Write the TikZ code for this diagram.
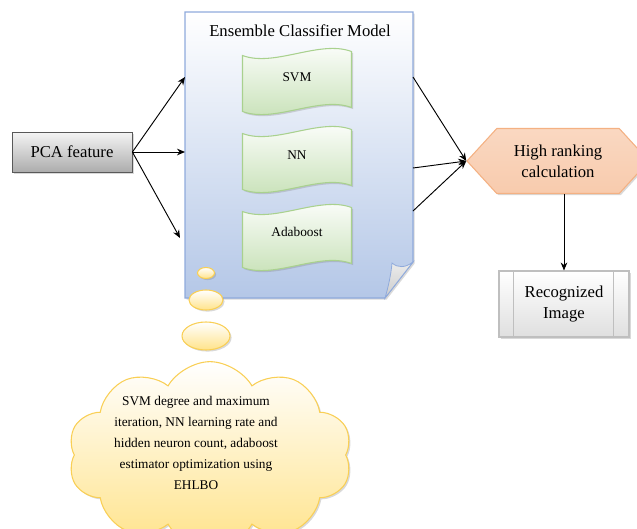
\documentclass[tikz,border=0pt]{standalone}
\usepackage{fontspec}
\setmainfont{Liberation Serif}
\usetikzlibrary{arrows.meta,shapes.geometric,shapes.symbols,shadows}
\definecolor{docBlue}{HTML}{B4C7E7}
\definecolor{docLine}{HTML}{8FAADC}
\definecolor{leafGreen}{HTML}{C5E0B4}
\definecolor{leafLine}{HTML}{A9D18E}
\definecolor{rankPeach}{HTML}{F8CBAD}
\definecolor{rankLine}{HTML}{F4B183}
\definecolor{cloudYel}{HTML}{FFE38A}
\definecolor{cloudLine}{HTML}{F9CF55}
\begin{document}
\begin{tikzpicture}[x=.75pt,y=-.75pt,
    arrowB/.style={-{Stealth[length=6pt,width=5pt]}, black, line width=.7pt},
    softShadow/.style={drop shadow={shadow xshift=1.2pt, shadow yshift=-1.2pt, opacity=.3}},
    bigText/.style={font=\fontsize{12.5}{15.5}\selectfont},
    smallText/.style={font=\fontsize{10}{15.6}\selectfont},
    bubbleY/.style={ellipse, inner sep=0, draw=cloudLine, line width=.8pt, top color=white, bottom color=cloudYel, softShadow},
    waveG/.pic={\path[draw=leafLine, line width=.8pt, top color=white, bottom color=leafGreen, softShadow]
      (-54.5,-27.5) .. controls (-22.5,-15.5) and (22.5,-43.5) .. (54.5,-31.5) -- (54.5,24.5)
      .. controls (22.5,12.5) and (-22.5,40.5) .. (-54.5,28.5) -- cycle;}]

      \useasboundingbox (0,0) rectangle (637,529);
      \clip (0,0) rectangle (637,529);

      \path[draw=docLine, line width=.8pt, top color=white, bottom color=docBlue, softShadow]
        (185,12) -- (413,12) -- (413,262) -- (385,298) -- (185,298) -- cycle;
      \path[draw=docLine, line width=.6pt, top color=gray!15, bottom color=gray!40]
        (413,262) .. controls (405,268) and (398,268) .. (392,263) .. controls (391,275) and (388,288) .. (385,298) -- cycle;
      \node[bigText] (ensTitle) at (300,31) {Ensemble Classifier Model};

      \pic at (297,83) {waveG};
      \node[smallText] (svm) at (297,77) {SVM};
      \pic at (297,161) {waveG};
      \node[smallText] (nn) at (297,155) {NN};
      \pic at (297,239) {waveG};
      \node[smallText] (ada) at (297,232) {Adaboost};

      \coordinate (ensIn1) at (185,77);
      \coordinate (ensIn2) at (185,152);
      \coordinate (ensIn3) at (180,238);
      \coordinate (ensOut1) at (413,77);
      \coordinate (ensOut2) at (413,168);
      \coordinate (ensOut3) at (413,211);

      \node[bigText, draw=gray!70!black, line width=.6pt, top color=gray!8, bottom color=gray!65,
        minimum width=90pt, minimum height=30pt, softShadow] (pca) at (72,152) {PCA feature};
      \draw[arrowB] (pca.east) -- (ensIn1);
      \draw[arrowB] (pca.east) -- (ensIn2);
      \draw[arrowB] (pca.east) -- (ensIn3);

      \node[signal, signal to=west and east, signal pointer angle=95, bigText, align=center,
        draw=rankLine, line width=.8pt, top color=rankPeach!75, bottom color=rankPeach,
        minimum width=136.5pt, minimum height=48.75pt, inner sep=0, softShadow] (hrc) at (558,161) {High ranking\\calculation};
      \draw[arrowB] (ensOut1) -- (hrc.west);
      \draw[arrowB] (ensOut2) -- (hrc.west);
      \draw[arrowB] (ensOut3) -- (hrc.west);

      \node[bigText, align=center, draw=gray!50, line width=.8pt, top color=white, bottom color=gray!25,
        minimum width=97.5pt, minimum height=49.5pt, softShadow] (rec) at (564,304) {Recognized\\Image};
      \draw[gray!50, line width=.8pt] ([xshift=11.25pt]rec.north west) -- ([xshift=11.25pt]rec.south west);
      \draw[gray!50, line width=.8pt] ([xshift=-12pt]rec.north east) -- ([xshift=-12pt]rec.south east);
      \draw[arrowB] (rec.north |- hrc.south) -- (rec.north);

      \node[bubbleY, minimum width=12.75pt, minimum height=8.25pt] (b1) at (206,273) {};
      \node[bubbleY, minimum width=25.5pt, minimum height=15pt] (b2) at (206,300) {};
      \node[bubbleY, minimum width=36pt, minimum height=21pt] (b3) at (206,336) {};

      \node[cloud, cloud puffs=10, cloud puff arc=120, cloud ignores aspect, draw=cloudLine, line width=.8pt,
        top color=white, bottom color=cloudYel, minimum width=213pt, minimum height=140pt, softShadow] (cloudOpt) at (210,455) {};
      \node[smallText, align=center] (optText) at (196,443) {SVM degree and maximum\\iteration, NN learning rate and\\hidden neuron count, adaboost\\estimator optimization using\\EHLBO};
    \end{tikzpicture}
\end{document}
